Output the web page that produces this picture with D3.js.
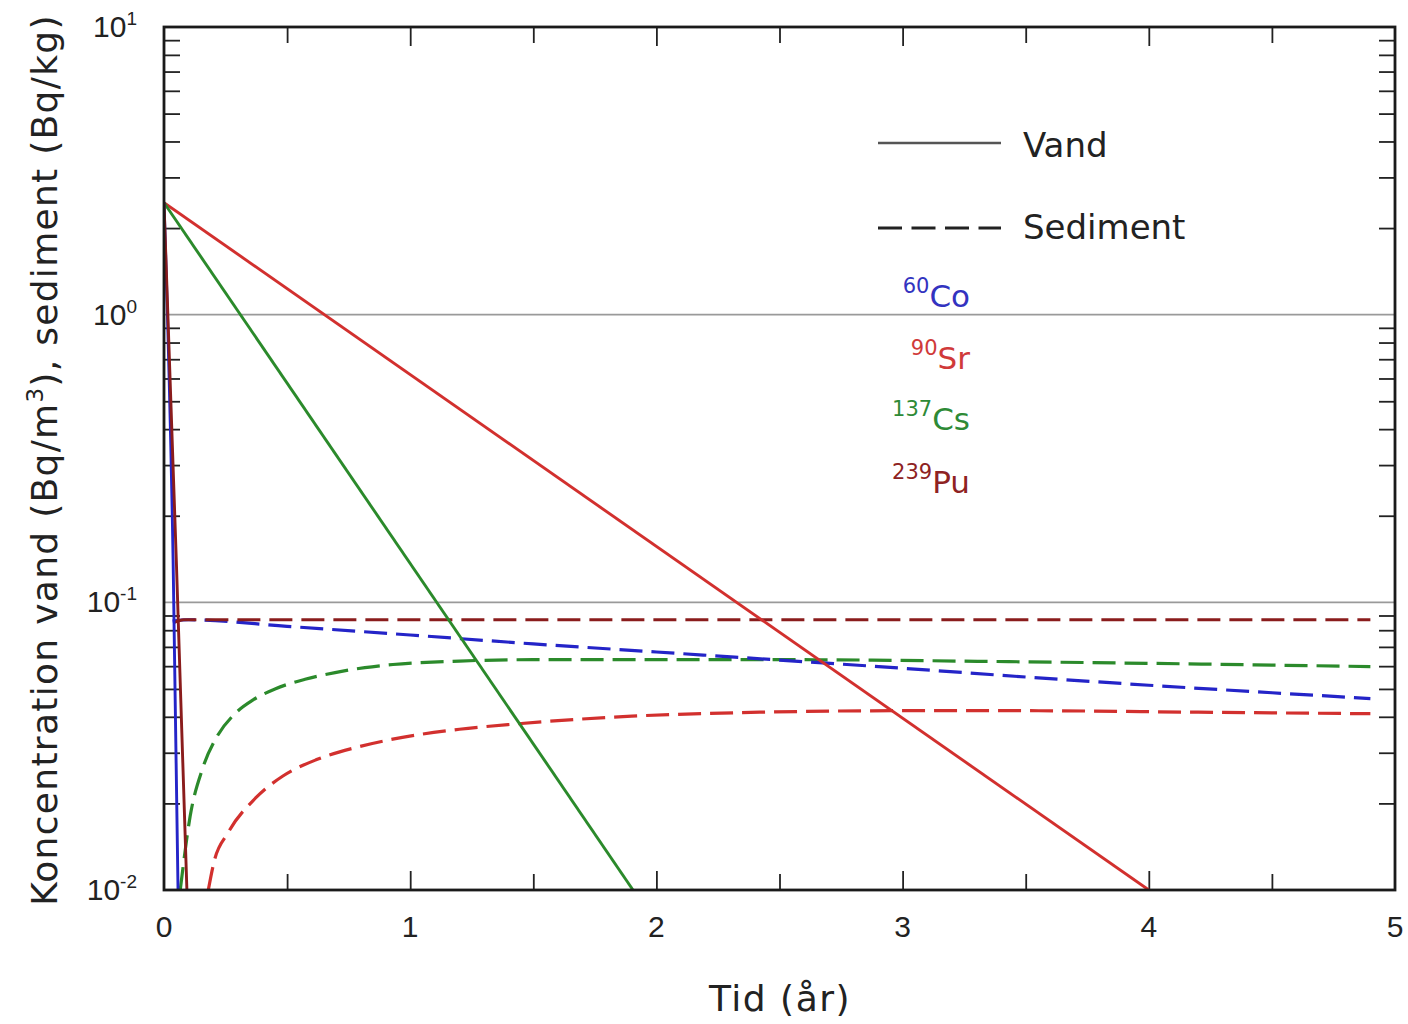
<!DOCTYPE html>
<html>
<head>
<meta charset="utf-8">
<script src="https://cdn.jsdelivr.net/npm/d3@7"></script>
<style>
  body { margin: 0; background: #fff; }
  .tick-label { font-family: "Liberation Sans", Arial, sans-serif; fill: #222; }
  .title { font-family: "DejaVu Sans", Verdana, sans-serif; fill: #222; }
</style>
</head>
<body>
<div id="chart"></div>
<script>
// afmetingen van het figuur
const width = 1408;
const height = 1024;
const margin = {top: 27, right: 13, bottom: 134, left: 164};

// tick waarden
const xTicks = [0, 1, 2, 3, 4, 5];
const xMinorTicks = [0.5, 1.5, 2.5, 3.5, 4.5];
const yDecades = [-2, -1, 0, 1];
const yGrid = [0.1, 1];

// vand (doorgetrokken lijnen), [tid, koncentration]
const coVand = [[0, 2.45], [0.037, 0.14], [0.057, 0.01]];
const srVand = [[0, 2.45], [4.0, 0.01]];
const csVand = [[0, 2.45], [1.905, 0.01]];
const puVand = [[0, 2.45], [0.05, 0.14], [0.093, 0.01]];

// sediment (gestippelde lijnen)
const coSediment = [[0.035, 0.086], [0.1, 0.087], [0.5, 0.0825], [1, 0.077], [1.5, 0.0717],
  [2, 0.0672], [2.5, 0.063], [3, 0.059], [3.5, 0.055], [4, 0.0515], [4.5, 0.0485], [4.9, 0.0463]];
const srSediment = [[0.18, 0.01], [0.203, 0.0125], [0.26, 0.0158], [0.37, 0.0208], [0.483, 0.0249],
  [0.62, 0.0284], [0.78, 0.0313], [0.918, 0.0333], [1.2, 0.0362], [1.433, 0.0378], [1.9, 0.0402],
  [2.42, 0.0415], [3, 0.042], [3.5, 0.042], [4.2, 0.0415], [4.9, 0.041]];
const csSediment = [[0.066, 0.01], [0.106, 0.018], [0.157, 0.0265], [0.214, 0.034],
  [0.288, 0.041], [0.362, 0.0458], [0.451, 0.05], [0.573, 0.054], [0.695, 0.057], [0.816, 0.0593],
  [0.93, 0.0608], [1.2, 0.0625], [1.5, 0.0632], [2.5, 0.0632], [3.5, 0.0621], [4.9, 0.0598]];
const puSediment = [[0.04, 0.085], [0.08, 0.087], [1, 0.087], [2, 0.087], [3, 0.087], [4, 0.087], [4.9, 0.087]];

// kleuren per isotoop
const colors = {co: "#2424c8", sr: "#d2302e", cs: "#2b8a2b", pu: "#8a1c1c"};

const series = [
  {data: csSediment, color: colors.cs, dashed: true},
  {data: srSediment, color: colors.sr, dashed: true},
  {data: coSediment, color: colors.co, dashed: true},
  {data: puSediment, color: colors.pu, dashed: true},
  {data: srVand, color: colors.sr, dashed: false},
  {data: csVand, color: colors.cs, dashed: false},
  {data: coVand, color: colors.co, dashed: false},
  {data: puVand, color: colors.pu, dashed: false}
];

const legendIsotopes = [
  {mass: "60", name: "Co", color: "#3333c0"},
  {mass: "90", name: "Sr", color: "#d03a3a"},
  {mass: "137", name: "Cs", color: "#2e8a36"},
  {mass: "239", name: "Pu", color: "#8e2222"}
];

const innerW = width - margin.left - margin.right;
const innerH = height - margin.top - margin.bottom;

const svg = d3.select("#chart").append("svg")
    .attr("width", width)
    .attr("height", height);

const g = svg.append("g")
    .attr("transform", "translate(" + margin.left + "," + margin.top + ")");

// schalen
const xScale = d3.scaleLinear().domain([0, 5]).range([0, innerW]);
const yScale = d3.scaleLog().domain([0.01, 10]).range([innerH, 0]);

// clip zodat lijnen niet buiten het plotgebied komen
svg.append("defs").append("clipPath").attr("id", "clip")
  .append("rect").attr("width", innerW).attr("height", innerH);

// hulplijnen bij 10^0 en 10^-1
g.append("g").selectAll("line")
    .data(yGrid).enter().append("line")
    .attr("x1", 0).attr("x2", innerW)
    .attr("y1", d => yScale(d)).attr("y2", d => yScale(d))
    .attr("stroke", "#9a9a9a").attr("stroke-width", 1.6);

// minor log ticks links en rechts
const yMinor = [];
[-2, -1, 0].forEach(function(e) {
  for (let k = 2; k <= 9; k++) yMinor.push(k * Math.pow(10, e));
});

function styleAxis(sel) {
  sel.select(".domain").remove();
  sel.selectAll(".tick line").attr("stroke", "#222").attr("stroke-width", 1.8);
  sel.selectAll(".tick text").remove();
}

g.append("g")
    .call(d3.axisLeft(yScale).tickValues(yMinor).tickSize(-16))
    .call(styleAxis);
g.append("g")
    .attr("transform", "translate(" + innerW + ",0)")
    .call(d3.axisRight(yScale).tickValues(yMinor).tickSize(-16))
    .call(styleAxis);

// x ticks onder en boven, naar binnen gericht
[[d3.axisBottom, innerH], [d3.axisTop, 0]].forEach(function(a) {
  g.append("g")
      .attr("transform", "translate(0," + a[1] + ")")
      .call(a[0](xScale).tickValues(xTicks.slice(1, 5)).tickSize(-19))
      .call(styleAxis);
  g.append("g")
      .attr("transform", "translate(0," + a[1] + ")")
      .call(a[0](xScale).tickValues(xMinorTicks).tickSize(-16))
      .call(styleAxis);
});

// lijnen
const line = d3.line()
    .x(d => xScale(d[0]))
    .y(d => yScale(d[1]))
    .curve(d3.curveMonotoneX);

g.append("g").attr("clip-path", "url(#clip)")
  .selectAll("path")
    .data(series).enter().append("path")
    .attr("d", d => line(d.data))
    .attr("fill", "none")
    .attr("stroke", d => d.color)
    .attr("stroke-width", d => d.dashed ? 3.2 : 2.9)
    .attr("stroke-dasharray", d => d.dashed ? "23,9" : null);

// kader
g.append("rect")
    .attr("width", innerW).attr("height", innerH)
    .attr("fill", "none").attr("stroke", "#1a1a1a").attr("stroke-width", 2.8);

// x labels
g.append("g").selectAll("text")
    .data(xTicks).enter().append("text")
    .attr("class", "tick-label")
    .attr("x", d => xScale(d))
    .attr("y", innerH + 47)
    .attr("text-anchor", "middle")
    .style("font-size", "30px")
    .text(d => d);

// y labels met exponent
const yLab = g.append("g").selectAll("text")
    .data(yDecades).enter().append("text")
    .attr("class", "tick-label")
    .attr("x", -27)
    .attr("y", d => yScale(Math.pow(10, d)) + 10)
    .attr("text-anchor", "end")
    .style("font-size", "30px");
yLab.append("tspan").text("10");
yLab.append("tspan").attr("dy", -12).style("font-size", "19px").text(d => d < 0 ? "-" + (-d) : d);

// as titels
svg.append("text")
    .attr("class", "title")
    .attr("x", 780).attr("y", 1011)
    .attr("text-anchor", "middle")
    .style("font-size", "36px")
    .style("letter-spacing", "1.5px")
    .text("Tid (år)");

const yt = svg.append("text")
    .attr("class", "title")
    .attr("transform", "translate(57,460) rotate(-90)")
    .attr("text-anchor", "middle")
    .style("font-size", "36px")
    .style("letter-spacing", "1.3px");
yt.append("tspan").text("Koncentration vand (Bq/m");
yt.append("tspan").attr("dy", -14).style("font-size", "23px").text("3");
yt.append("tspan").attr("dy", 14).text("), sediment (Bq/kg)");

// legenda
const legend = svg.append("g");
legend.append("line")
    .attr("x1", 878).attr("x2", 1001).attr("y1", 143).attr("y2", 143)
    .attr("stroke", "#555").attr("stroke-width", 2.4);
legend.append("text").attr("class", "title")
    .attr("x", 1023).attr("y", 157).style("font-size", "34px").text("Vand");
legend.append("line")
    .attr("x1", 878).attr("x2", 1001).attr("y1", 228).attr("y2", 228)
    .attr("stroke", "#222").attr("stroke-width", 2.8)
    .attr("stroke-dasharray", "24,9.5");
legend.append("text").attr("class", "title")
    .attr("x", 1023).attr("y", 239).style("font-size", "34px").text("Sediment");

const isoY = [307, 369, 430, 493];
const iso = legend.selectAll(".iso")
    .data(legendIsotopes).enter().append("text")
    .attr("class", "title iso")
    .attr("x", 970)
    .attr("y", (d, i) => isoY[i])
    .attr("text-anchor", "end")
    .style("font-size", "31px")
    .style("fill", d => d.color);
iso.append("tspan").attr("dy", -14).style("font-size", "21px").text(d => d.mass);
iso.append("tspan").attr("dy", 14).text(d => d.name);
</script>
</body>
</html>
